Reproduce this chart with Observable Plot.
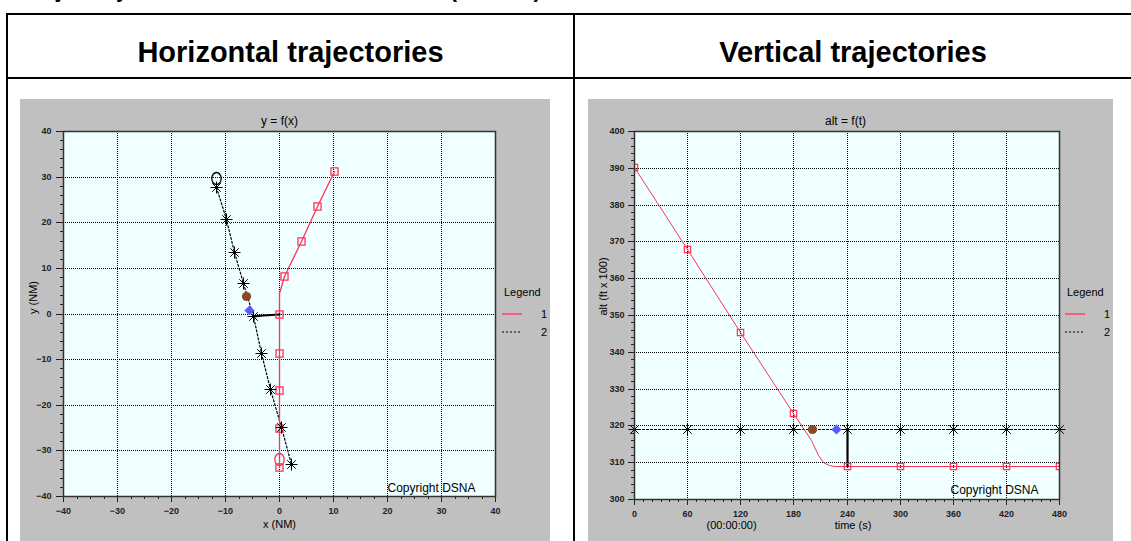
<!DOCTYPE html>
<html><head><meta charset="utf-8">
<script src="https://cdn.jsdelivr.net/npm/d3@7"></script>
<script src="https://cdn.jsdelivr.net/npm/@observablehq/plot@0.6"></script>
<style>
body{margin:0;background:#fff;width:1131px;height:541px;overflow:hidden;position:relative;font-family:"Liberation Sans",Arial,sans-serif}
.bl{position:absolute;background:#000}
.hdr{position:absolute;font-weight:bold;font-size:29px;text-align:center;line-height:32px}
.panel{position:absolute;background:#c0c0c0;overflow:hidden}
.lg{position:absolute;font-size:11px;color:#000;line-height:12px}
</style></head><body>
<div style="position:absolute;left:23px;top:-21px;font-weight:bold;font-size:22px;line-height:22px;white-space:nowrap">Trajectory of the aircraft at the alert time (at t=0 s)</div>
<div class="bl" style="left:6px;top:13px;width:1125px;height:2px"></div>
<div class="bl" style="left:6px;top:77px;width:1125px;height:2px"></div>
<div class="bl" style="left:6px;top:13px;width:2px;height:528px"></div>
<div class="bl" style="left:573px;top:13px;width:2px;height:528px"></div>
<div class="hdr" style="left:8px;width:565px;top:36px">Horizontal trajectories</div>
<div class="hdr" style="left:575px;width:556px;top:36px">Vertical trajectories</div>
<div class="panel" id="pH" style="left:20px;top:99px;width:530px;height:442px"></div>
<div class="panel" id="pV" style="left:588px;top:99px;width:525px;height:442px"></div>
<div id="legends"></div>
<script>
// ---------- data : horizontal trajectories (NM) ----------
const h1MarkX = [0, 0, 0, 0, 0, 1.0, 4.0, 7.1, 10.1];
const h1MarkY = [-33.6, -25.2, -16.8, -8.6, 0, 8.2, 15.8, 23.5, 31.3];
const h1PathX = [0, 0, 1.0, 4.0, 7.1, 10.1];
const h1PathY = [-33.6, 4.5, 8.2, 15.8, 23.5, 31.3];
const h2X = [-11.7, -9.9, -8.3, -6.6, -4.9, -3.3, -1.7, 0.4, 2.2];
const h2Y = [27.8, 20.7, 13.5, 6.7, -0.6, -8.6, -16.6, -24.9, -32.9];
const hStartX = [0, -11.7];
const hStartY = [-31.9, 29.7];
const hStartSeries = ["1", "2"];
const hBrown = [-6.2, 3.9];
const hBlue = [-5.5, 0.7];
const hSepX = [-4.9, -2.9, 0];
const hSepY = [-0.6, -0.3, -0.1];
const hMajor = [-40, -30, -20, -10, 0, 10, 20, 30, 40];

// ---------- data : vertical trajectories (time s, alt ft x 100) ----------
const vT = [0, 60, 120, 180, 240, 300, 360, 420, 480];
const v1Alt = [390.3, 367.9, 345.5, 323.4, 309.1, 309.1, 309.1, 309.1, 309.1];
const v1PathT = [0, 60, 120, 180, 200, 208, 214, 220, 226, 480];
const v1PathAlt = [390.3, 367.9, 345.5, 323.4, 316.0, 312.0, 310.0, 309.3, 309.1, 309.1];
const v2Alt = [319, 319, 319, 319, 319, 319, 319, 319, 319];
const vBrown = [201, 319];
const vBlue = [228, 319];
const vSepT = [240, 240];
const vSepAlt = [319, 309.1];
const vMajorT = [0, 60, 120, 180, 240, 300, 360, 420, 480];
const vMajorAlt = [300, 310, 320, 330, 340, 350, 360, 370, 380, 390, 400];
const legendLabels = ["1", "2"];

const RED = "#ff3355";
const toXY = (xs, ys) => xs.map((x, i) => ({x, y: ys[i]}));

const asterisk8 = {draw(ctx, size) {
  const r = Math.sqrt(size / Math.PI), d = r * Math.SQRT1_2;
  ctx.moveTo(-r, 0); ctx.lineTo(r, 0); ctx.moveTo(0, -r); ctx.lineTo(0, r);
  ctx.moveTo(-d, -d); ctx.lineTo(d, d); ctx.moveTo(-d, d); ctx.lineTo(d, -d);
}};
const ellipse = {draw(ctx, size) {
  const r = Math.sqrt(size / Math.PI), rx = r * 0.78, ry = r, k = 0.5523;
  ctx.moveTo(rx, 0);
  ctx.bezierCurveTo(rx, ry * k, rx * k, ry, 0, ry);
  ctx.bezierCurveTo(-rx * k, ry, -rx, ry * k, -rx, 0);
  ctx.bezierCurveTo(-rx, -ry * k, -rx * k, -ry, 0, -ry);
  ctx.bezierCurveTo(rx * k, -ry, rx, -ry * k, rx, 0);
  ctx.closePath();
}};

const FONT = "'Liberation Sans', Arial, sans-serif";
const grid = {stroke: "#000", strokeOpacity: 1, strokeDasharray: "1,1", strokeWidth: 1};

// ---------- horizontal chart ----------
const hp = Plot.plot({
  width: 530, height: 442, marginLeft: 43, marginRight: 55, marginTop: 32, marginBottom: 45,
  style: {background: "#c0c0c0", fontFamily: FONT, fontSize: "9px", color: "#222", overflow: "visible"},
  x: {domain: [-40, 40], label: null, round: true},
  y: {domain: [-40, 40], label: null, round: true},
  symbol: {domain: hStartSeries, range: [ellipse, ellipse]},
  marks: [
    Plot.frame({fill: "#f0ffff", stroke: null}),
    Plot.gridX(hMajor.slice(1, -1), grid),
    Plot.gridY(hMajor.slice(1, -1), grid),
    Plot.axisX(hMajor, {tickSize: 6, tickPadding: 5, fontWeight: "bold", fill: "#222", label: null}),
    Plot.axisX(d3.range(-40, 40.1, 2.5), {tickSize: 3, tickFormat: () => "", label: null}),
    Plot.axisY(hMajor, {tickSize: 7, tickPadding: 5, fontWeight: "bold", fill: "#222", label: null}),
    Plot.axisY(d3.range(-40, 40.1, 2), {tickSize: 3, tickFormat: () => "", label: null}),
    Plot.line(toXY(h2X, h2Y), {x: "x", y: "y", stroke: "#000", strokeWidth: 1.2, strokeDasharray: "2,2"}),
    Plot.line(toXY(h1PathX, h1PathY), {x: "x", y: "y", stroke: RED, strokeWidth: 1.3}),
    Plot.line(toXY(hSepX, hSepY), {x: "x", y: "y", stroke: "#000", strokeWidth: 2.2}),
    Plot.dot(toXY(h1MarkX, h1MarkY), {x: "x", y: "y", symbol: "square", r: 4, stroke: RED, fill: "none", strokeWidth: 1.3}),
    Plot.dot(toXY(h2X, h2Y), {x: "x", y: "y", symbol: asterisk8, r: 6, stroke: "#000", strokeWidth: 1}),
    Plot.dot(toXY(h2X, h2Y), {x: "x", y: "y", r: 1.8, fill: "#000"}),
    Plot.dot(hStartX.map((x, i) => ({x, y: hStartY[i], s: hStartSeries[i]})), {x: "x", y: "y", r: 6, symbol: "s", stroke: d => d.s === "1" ? RED : "#000", fill: "none", strokeWidth: 1.3}),
    Plot.dot([{x: hBrown[0], y: hBrown[1]}], {x: "x", y: "y", r: 4.6, fill: "#8b4726"}),
    Plot.dot([{x: hBlue[0], y: hBlue[1]}], {x: "x", y: "y", r: 4.6, symbol: "diamond2", fill: "#5858ff"}),
    Plot.frame({stroke: "#333", strokeWidth: 1.5}),
    Plot.text(["y = f(x)"], {frameAnchor: "top", dy: -15, fontSize: 12, fill: "#000"}),
    Plot.text(["x (NM)"], {frameAnchor: "bottom", dy: 31, fontSize: 11, fill: "#000"}),
    Plot.text(["y (NM)"], {frameAnchor: "left", dx: -30, rotate: -90, fontSize: 11, fill: "#000"}),
    Plot.text(["Copyright DSNA"], {frameAnchor: "bottom-right", textAnchor: "end", dx: -20, dy: -5, fontSize: 12, fill: "#000"})
  ]
});
document.getElementById("pH").appendChild(hp);

// ---------- vertical chart ----------
const vp = Plot.plot({
  width: 525, height: 442, marginLeft: 46, marginRight: 54, marginTop: 32, marginBottom: 42,
  style: {background: "#c0c0c0", fontFamily: FONT, fontSize: "9px", color: "#222", overflow: "visible"},
  x: {domain: [0, 480], label: null, round: true},
  y: {domain: [300, 400], label: null, round: true},
  marks: [
    Plot.frame({fill: "#f0ffff", stroke: null}),
    Plot.gridX(vMajorT.slice(1, -1), grid),
    Plot.gridY(vMajorAlt.slice(1, -1), grid),
    Plot.axisX(vMajorT, {tickSize: 6, tickPadding: 5, fontWeight: "bold", fill: "#222", label: null}),
    Plot.axisX(d3.range(0, 480.1, 10), {tickSize: 3, tickFormat: () => "", label: null}),
    Plot.axisY(vMajorAlt, {tickSize: 6, tickPadding: 4, fontWeight: "bold", fill: "#222", label: null}),
    Plot.axisY(d3.range(300, 400.1, 2), {tickSize: 3, tickFormat: () => "", label: null}),
    Plot.line(toXY(vT, v2Alt), {x: "x", y: "y", stroke: "#000", strokeWidth: 1.2, strokeDasharray: "2,2"}),
    Plot.line(toXY(v1PathT, v1PathAlt), {x: "x", y: "y", stroke: RED, strokeWidth: 1}),
    Plot.line(toXY(vSepT, vSepAlt), {x: "x", y: "y", stroke: "#000", strokeWidth: 2.2}),
    Plot.dot(toXY(vT, v1Alt), {x: "x", y: "y", symbol: "square", r: 3.6, stroke: RED, fill: "none", strokeWidth: 1.2, clip: "frame"}),
    Plot.dot(toXY(vT, v2Alt), {x: "x", y: "y", symbol: asterisk8, r: 6, stroke: "#000", strokeWidth: 1}),
    Plot.dot(toXY(vT, v2Alt), {x: "x", y: "y", r: 1.8, fill: "#000"}),
    Plot.dot([{x: vBrown[0], y: vBrown[1]}], {x: "x", y: "y", r: 4.6, fill: "#8b4726"}),
    Plot.dot([{x: vBlue[0], y: vBlue[1]}], {x: "x", y: "y", r: 4.6, symbol: "diamond2", fill: "#5858ff"}),
    Plot.frame({stroke: "#333", strokeWidth: 1.5}),
    Plot.text(["alt = f(t)"], {frameAnchor: "top", dx: -1.5, dy: -15.5, fontSize: 12, fill: "#000"}),
    Plot.text(["time (s)"], {frameAnchor: "bottom", dx: 6, dy: 29, fontSize: 11, fill: "#000"}),
    Plot.text(["(00:00:00)"], {frameAnchor: "bottom-left", dx: 72, dy: 29, fontSize: 11, fill: "#000"}),
    Plot.text(["alt (ft x 100)"], {frameAnchor: "left", dx: -31, rotate: -90, fontSize: 11, fill: "#000"}),
    Plot.text(["Copyright DSNA"], {frameAnchor: "bottom-right", textAnchor: "end", dx: -21, dy: -6, fontSize: 12, fill: "#000"})
  ]
});
document.getElementById("pV").appendChild(vp);

// ---------- legends ----------
function legend(left, top) {
  const host = document.getElementById("legends");
  const t = document.createElement("div");
  t.className = "lg"; t.style.left = (left + 1) + "px"; t.style.top = (top - 6) + "px";
  t.textContent = "Legend"; host.appendChild(t);
  legendLabels.forEach((lab, i) => {
    const y = top + 22 + i * 18;
    const s = document.createElementNS("http://www.w3.org/2000/svg", "svg");
    s.setAttribute("width", 22); s.setAttribute("height", 4);
    s.style.position = "absolute"; s.style.left = (left - 1) + "px"; s.style.top = (y - 2) + "px";
    const l = document.createElementNS("http://www.w3.org/2000/svg", "line");
    l.setAttribute("x1", 0); l.setAttribute("x2", 20); l.setAttribute("y1", 2); l.setAttribute("y2", 2);
    l.setAttribute("stroke", i === 0 ? RED : "#000");
    l.setAttribute("stroke-width", i === 0 ? 1.3 : 1);
    if (i === 1) l.setAttribute("stroke-dasharray", "2,2");
    s.appendChild(l); host.appendChild(s);
    const n = document.createElement("div");
    n.className = "lg"; n.style.left = (left + 38) + "px"; n.style.top = (y - 6) + "px";
    n.textContent = lab; host.appendChild(n);
  });
}
legend(503, 292);
legend(1066, 292);
</script>
</body></html>
